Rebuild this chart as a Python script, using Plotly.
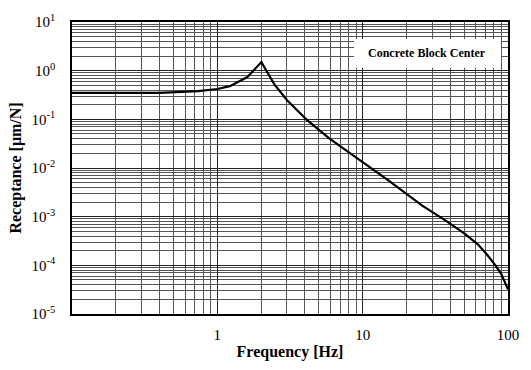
import plotly.graph_objects as go

freq_hz = [0.1, 0.4, 0.74, 1.0, 1.22, 1.61, 2.01, 2.47, 3.02, 4.13, 5.92, 9.0,
           12.3, 15.1, 25.7, 36.8, 50.3, 62.0, 72.1, 82.0, 89.7, 100]
receptance = [0.35, 0.35, 0.38, 0.42, 0.48, 0.74, 1.5, 0.52, 0.246, 0.0975,
              0.040, 0.0165, 0.0088, 0.0055, 0.00168, 0.00085, 0.000448,
              0.00027, 0.000163, 0.0001, 6.7e-5, 3.2e-5]

y_tick_vals = [1e-5, 1e-4, 1e-3, 1e-2, 1e-1, 1, 10]
y_tick_text = ["10<sup>-5</sup>", "10<sup>-4</sup>", "10<sup>-3</sup>",
               "10<sup>-2</sup>", "10<sup>-1</sup>", "10<sup>0</sup>", "10<sup>1</sup>"]
x_tick_vals = [1, 10, 100]
x_tick_text = ["1", "10", "100"]
legend_label = "Concrete Block Center"

serif = "Liberation Serif, Times New Roman, serif"

fig = go.Figure()
fig.add_trace(go.Scatter(x=freq_hz, y=receptance, mode="lines",
                         line=dict(color="black", width=2.2),
                         showlegend=False))

fig.update_layout(
    width=531, height=370,
    margin=dict(l=72, r=17, t=13, b=44),
    paper_bgcolor="white", plot_bgcolor="white",
    font=dict(family=serif, color="black"),
)
fig.update_xaxes(
    type="log", range=[-1, 2],
    tickvals=x_tick_vals, ticktext=x_tick_text,
    tickfont=dict(size=15, family=serif),
    showgrid=True, gridcolor="#222", gridwidth=1,
    minor=dict(dtick="D1", showgrid=True, gridcolor="#555", gridwidth=1, ticks=""),
    showline=True, linecolor="black", linewidth=1.5, mirror=True,
    ticks="", ticklabelstandoff=6,
    title=dict(text="<b>Frequency [Hz]</b>", font=dict(size=16, family=serif), standoff=4),
    zeroline=False,
)
fig.update_yaxes(
    type="log", range=[-5, 1],
    tickvals=y_tick_vals, ticktext=y_tick_text,
    tickfont=dict(size=15, family=serif),
    showgrid=True, gridcolor="#222", gridwidth=1,
    minor=dict(dtick="D1", showgrid=True, gridcolor="#555", gridwidth=1, ticks=""),
    showline=True, linecolor="black", linewidth=1.5, mirror=True,
    ticks="", ticklabelstandoff=12,
    title=dict(text="<b>Receptance [μm/N]</b>", font=dict(size=16, family=serif), standoff=6),
    zeroline=False,
)
fig.add_shape(type="rect", xref="paper", yref="paper",
              x0=0.647, x1=0.984, y0=0.843, y1=0.942,
              fillcolor="white", line=dict(width=0), layer="above")
fig.add_annotation(
    xref="paper", yref="paper", x=0.815, y=0.893, xanchor="center", yanchor="middle",
    text="<b>" + legend_label + "</b>", showarrow=False,
    font=dict(size=12, family=serif, color="black"),
)
fig.write_html("out.html")
